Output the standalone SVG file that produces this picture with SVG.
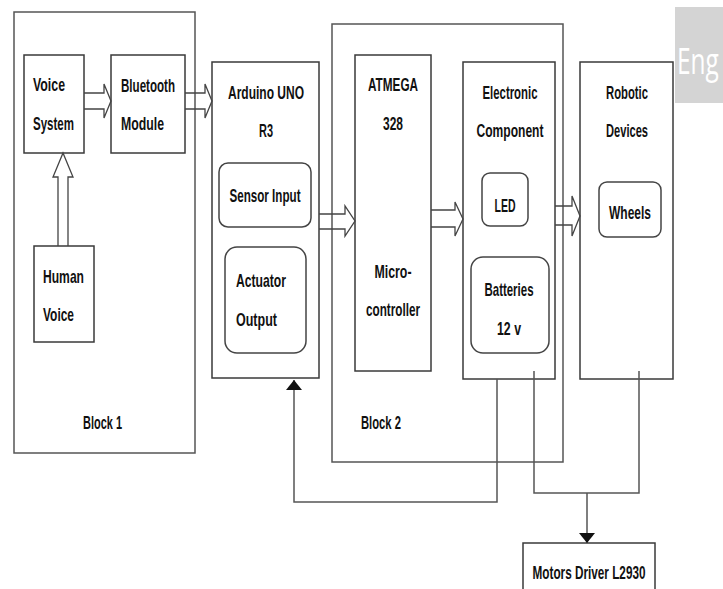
<svg xmlns="http://www.w3.org/2000/svg" width="723" height="589" viewBox="0 0 723 589">
<defs>
<style>
.box{fill:#fff;stroke:#3a3a3a;stroke-width:1.5}
.blk{fill:none;stroke:#555;stroke-width:1.5}
.rr{fill:#fff;stroke:#444;stroke-width:1.5}
.t{font-family:"Liberation Sans",Arial,sans-serif;font-weight:bold;font-size:19px;fill:#111}
.c{text-anchor:middle}
.ha{fill:none;stroke:#444;stroke-width:1.3;stroke-linejoin:miter}
.ln{fill:none;stroke:#555;stroke-width:1.5}
</style>
<marker id="ah" viewBox="0 0 10 16" refX="10" refY="8" markerWidth="10" markerHeight="16" markerUnits="userSpaceOnUse" orient="auto">
<path d="M0,0 L10,8 L0,16 Z" fill="#111"/>
</marker>
</defs>
<rect width="723" height="589" fill="#fff"/>
<g id="eng-badge">
<rect x="675" y="7" width="48" height="96" fill="#d4d4d4"/>
<text transform="translate(677,74) scale(0.68,1)" x="0" y="0" font-family="'Open Sans','Liberation Sans',sans-serif" font-size="36" fill="#fff">Eng</text>
</g>
<g id="block1">
<rect class="blk" x="14" y="12" width="181" height="441"/>
<text class="t" x="83" y="429" textLength="39" lengthAdjust="spacingAndGlyphs">Block 1</text>
</g>
<g id="block2">
<rect class="blk" x="332" y="24" width="231" height="438"/>
<text class="t" x="361" y="429" textLength="40" lengthAdjust="spacingAndGlyphs">Block 2</text>
</g>
<g id="voice-system">
<rect class="box" x="24" y="55" width="60" height="98"/>
<text class="t" x="33" y="91" textLength="32" lengthAdjust="spacingAndGlyphs">Voice</text>
<text class="t" x="33" y="130" textLength="41" lengthAdjust="spacingAndGlyphs">System</text>
</g>
<g id="bluetooth-module">
<rect class="box" x="111" y="55" width="74" height="98"/>
<text class="t" x="121" y="92" textLength="54" lengthAdjust="spacingAndGlyphs">Bluetooth</text>
<text class="t" x="121" y="130" textLength="43" lengthAdjust="spacingAndGlyphs">Module</text>
</g>
<g id="human-voice">
<rect class="box" x="34" y="246" width="60" height="96"/>
<text class="t" x="43" y="283" textLength="41" lengthAdjust="spacingAndGlyphs">Human</text>
<text class="t" x="43" y="321" textLength="31" lengthAdjust="spacingAndGlyphs">Voice</text>
</g>
<g id="arduino">
<rect class="box" x="212" y="62" width="107" height="316"/>
<text class="t c" x="266" y="99" textLength="76" lengthAdjust="spacingAndGlyphs">Arduino UNO</text>
<text class="t c" x="266" y="137" textLength="14" lengthAdjust="spacingAndGlyphs">R3</text>
</g>
<g id="sensor-input">
<rect class="rr" x="219" y="163" width="92" height="64" rx="9"/>
<text class="t c" x="265" y="202" textLength="71" lengthAdjust="spacingAndGlyphs">Sensor Input</text>
</g>
<g id="actuator-output">
<rect class="rr" x="225" y="247" width="81" height="106" rx="12"/>
<text class="t" x="236" y="287" textLength="50" lengthAdjust="spacingAndGlyphs">Actuator</text>
<text class="t" x="236" y="326" textLength="41" lengthAdjust="spacingAndGlyphs">Output</text>
</g>
<g id="atmega">
<rect class="box" x="355" y="55" width="76" height="316"/>
<text class="t c" x="393" y="91" textLength="50" lengthAdjust="spacingAndGlyphs">ATMEGA</text>
<text class="t c" x="393" y="130" textLength="20" lengthAdjust="spacingAndGlyphs">328</text>
<text class="t c" x="393" y="278" textLength="37" lengthAdjust="spacingAndGlyphs">Micro-</text>
<text class="t c" x="393" y="316" textLength="54" lengthAdjust="spacingAndGlyphs">controller</text>
</g>
<g id="electronic-component">
<rect class="box" x="463" y="62" width="92" height="317"/>
<text class="t c" x="510" y="99" textLength="55" lengthAdjust="spacingAndGlyphs">Electronic</text>
<text class="t c" x="510" y="137" textLength="67" lengthAdjust="spacingAndGlyphs">Component</text>
</g>
<g id="led">
<rect class="rr" x="482" y="173" width="46" height="53" rx="8"/>
<text class="t c" x="505" y="212" textLength="21" lengthAdjust="spacingAndGlyphs">LED</text>
</g>
<g id="batteries">
<rect class="rr" x="471" y="257" width="78" height="96" rx="12"/>
<text class="t c" x="509" y="296" textLength="49" lengthAdjust="spacingAndGlyphs">Batteries</text>
<text class="t c" x="509" y="335" textLength="24" lengthAdjust="spacingAndGlyphs">12 v</text>
</g>
<g id="robotic-devices">
<rect class="box" x="580" y="62" width="93" height="317"/>
<text class="t c" x="627" y="99" textLength="42" lengthAdjust="spacingAndGlyphs">Robotic</text>
<text class="t c" x="627" y="137" textLength="42" lengthAdjust="spacingAndGlyphs">Devices</text>
</g>
<g id="wheels">
<rect class="rr" x="599" y="182" width="62" height="55" rx="8"/>
<text class="t c" x="630" y="219" textLength="42" lengthAdjust="spacingAndGlyphs">Wheels</text>
</g>
<g id="motors-driver">
<rect class="box" x="523" y="543" width="132" height="52"/>
<text class="t c" x="589" y="579" textLength="113" lengthAdjust="spacingAndGlyphs">Motors Driver L2930</text>
</g>
<g id="connectors">
<path class="ha" d="M84,93 H104 V84 L111,101 L104,118 V109 H84"/>
<path class="ha" d="M185,93 H205 V84 L212,101 L205,118 V109 H185"/>
<path class="ha" d="M58,246 V177 H53 L63,153 L73,177 H68 V246"/>
<path class="ha" d="M319,214 H345 V206 L355,221 L345,236 V229 H319"/>
<path class="ha" d="M431,210 H455 V202 L463,219 L455,236 V227 H431"/>
<path class="ha" d="M555,206 H572 V196 L580,216 L572,236 V225 H555"/>
<path class="ln" d="M497,379 V502 H294 V380" marker-end="url(#ah)"/>
<path class="ln" d="M534,371 V493 H639 V371"/>
<path class="ln" d="M587,493 V543" marker-end="url(#ah)"/>
</g>
</svg>
